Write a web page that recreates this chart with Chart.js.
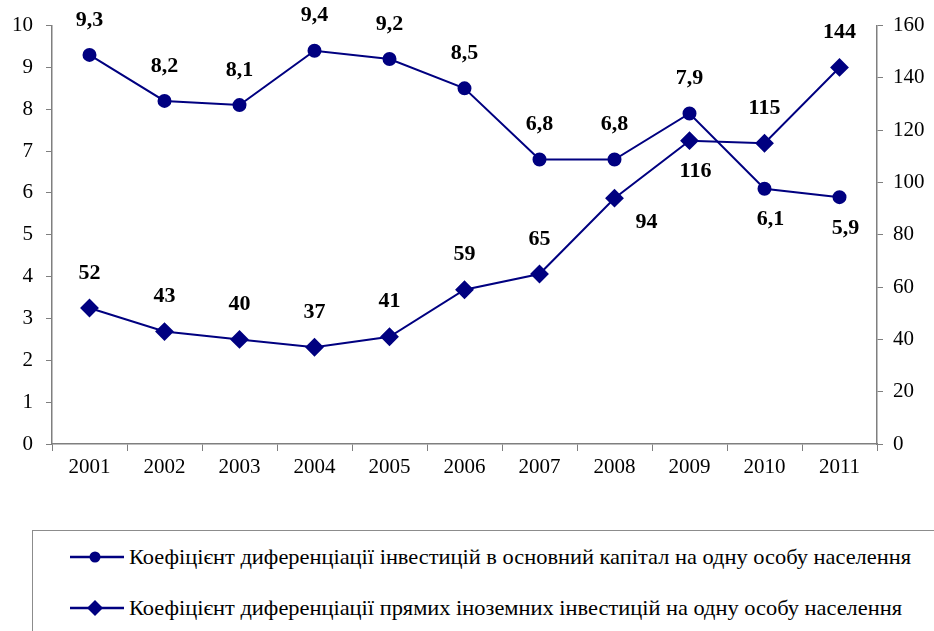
<!DOCTYPE html>
<html>
<head>
<meta charset="utf-8">
<script src="https://cdn.jsdelivr.net/npm/chart.js@4/dist/chart.umd.min.js"></script>
<style>
    html, body { margin: 0; padding: 0; background: #fff; overflow: hidden; }
    #wrap { position: relative; width: 934px; height: 631px; }
    #chart { position: absolute; left: 0; top: 0; }
    #legend {
        position: absolute; left: 32px; top: 530px; width: 960px; height: 140px;
        border: 1.5px solid #8c8c8c; box-sizing: border-box;
    }
    .row { position: absolute; left: 36px; height: 30px; white-space: nowrap; }
    .row svg { position: absolute; left: 0; top: 4px; }
    .row span {
        position: absolute; left: 60px; top: 0; display: inline-block;
        font-size: 22px; line-height: 30px; color: #000; transform-origin: 0 50%;
    }
</style>
</head>
<body>
<div id="wrap">
    <canvas id="chart" width="934" height="500"></canvas>
    <div id="legend">
        <div class="row" style="top:11px">
            <svg width="56" height="22"><line x1="1" y1="11" x2="55" y2="11" stroke="#000080" stroke-width="2.5"/><circle cx="26" cy="11" r="5.5" fill="#000080"/></svg>
            <span id="leg0"></span>
        </div>
        <div class="row" style="top:62px">
            <svg width="56" height="22"><line x1="1" y1="11" x2="55" y2="11" stroke="#000080" stroke-width="2.5"/><polygon points="26,3 34,11 26,19 18,11" fill="#000080"/></svg>
            <span id="leg1"></span>
        </div>
    </div>
</div>
<script>
(function() {
    'use strict';

    // Chart data
    const years = ['2001', '2002', '2003', '2004', '2005', '2006', '2007', '2008', '2009', '2010', '2011'];
    const capitalCoef = [9.3, 8.2, 8.1, 9.4, 9.2, 8.5, 6.8, 6.8, 7.9, 6.1, 5.9];
    const foreignCoef = [52, 43, 40, 37, 41, 59, 65, 94, 116, 115, 144];
    const leftTicks = [0, 10, 1];
    const rightTicks = [0, 160, 20];
    const seriesNames = [
        'Коефіцієнт диференціації інвестицій в основний капітал на одну особу населення',
        'Коефіцієнт диференціації прямих іноземних інвестицій на одну особу населення'
    ];

    // Where each value label sits relative to its point
    const capitalLabelPos = ['up', 'up', 'up', 'up', 'up', 'up', 'up', 'up', 'up', 'down', 'down'];
    const foreignLabelPos = ['up', 'up', 'up', 'up', 'up', 'up', 'up', 'right', 'down', 'up', 'up'];

    const NAVY = '#000080';
    const AXIS = '#7f7f7f';

    // Pick the first serif face that is really installed (Times-like look of the original)
    function pickSerif() {
        const c = document.createElement('canvas').getContext('2d');
        const probe = 'abcdefghijklmnopqrstuvwxyz0123456789 Коефіцієнт';
        const names = ['Liberation Serif', 'Tinos', 'Times New Roman', 'Times', 'Nimbus Roman',
            'Nimbus Roman No9 L', 'FreeSerif', 'DejaVu Serif', 'Noto Serif', 'Georgia'];
        const base = {};
        ['monospace', 'sans-serif'].forEach(b => {
            c.font = '20px ' + b;
            base[b] = c.measureText(probe).width;
        });
        for (const n of names) {
            let found = true;
            ['monospace', 'sans-serif'].forEach(b => {
                c.font = '20px "' + n + '", ' + b;
                if (c.measureText(probe).width === base[b]) found = false;
            });
            if (found) return '"' + n + '", serif';
        }
        return 'serif';
    }
    const FAMILY = pickSerif();
    const TICK_FONT = { family: FAMILY, size: 21 };

    function fmt(v) {
        return String(v).replace('.', ',');
    }

    // Draws bold value labels next to the points
    const valueLabels = {
        id: 'valueLabels',
        afterDatasetsDraw(chart) {
            const ctx = chart.ctx;
            ctx.save();
            ctx.font = 'bold 22px ' + FAMILY;
            ctx.fillStyle = '#000';
            ctx.textAlign = 'center';
            ctx.textBaseline = 'middle';
            chart.data.datasets.forEach((ds, di) => {
                const meta = chart.getDatasetMeta(di);
                meta.data.forEach((pt, i) => {
                    const pos = ds.labelPos[i];
                    let x = pt.x, y = pt.y;
                    if (pos === 'up') y -= 35;
                    else if (pos === 'down') { y += 31; x += 6; }
                    else if (pos === 'right') { x += 32; y += 24; }
                    ctx.fillText(fmt(ds.data[i]), x, y);
                });
            });
            ctx.restore();
        }
    };

    const ctx = document.getElementById('chart').getContext('2d');
    new Chart(ctx, {
        type: 'line',
        data: {
            labels: years,
            datasets: [
                {
                    label: seriesNames[0],
                    data: capitalCoef,
                    labelPos: capitalLabelPos,
                    yAxisID: 'y',
                    borderColor: NAVY,
                    backgroundColor: NAVY,
                    borderWidth: 2,
                    pointStyle: 'circle',
                    pointRadius: 6,
                    tension: 0
                },
                {
                    label: seriesNames[1],
                    data: foreignCoef,
                    labelPos: foreignLabelPos,
                    yAxisID: 'y1',
                    borderColor: NAVY,
                    backgroundColor: NAVY,
                    borderWidth: 2,
                    pointStyle: 'rectRot',
                    pointRadius: 8,
                    tension: 0
                }
            ]
        },
        options: {
            responsive: false,
            animation: false,
            devicePixelRatio: 1,
            layout: { padding: { top: 23, left: 0, right: 0, bottom: 0 } },
            plugins: {
                legend: { display: false },
                tooltip: { enabled: false }
            },
            scales: {
                x: {
                    offset: true,
                    grid: { display: true, drawOnChartArea: false, drawTicks: true, tickLength: 7, color: AXIS, offset: true },
                    border: { color: AXIS, width: 1.5 },
                    ticks: { font: TICK_FONT, color: '#000', padding: 4, maxRotation: 0 },
                    afterFit(scale) { scale.height = 56; }
                },
                y: {
                    position: 'left',
                    min: leftTicks[0],
                    max: leftTicks[1],
                    grid: { display: true, drawOnChartArea: false, drawTicks: true, tickLength: 6, color: AXIS },
                    border: { color: AXIS, width: 1.5 },
                    ticks: { stepSize: leftTicks[2], font: TICK_FONT, color: '#000', padding: 13 },
                    afterFit(scale) { scale.width = 52; }
                },
                y1: {
                    position: 'right',
                    min: rightTicks[0],
                    max: rightTicks[1],
                    grid: { display: true, drawOnChartArea: false, drawTicks: true, tickLength: 6, color: AXIS },
                    border: { color: AXIS, width: 1.5 },
                    ticks: { stepSize: rightTicks[2], font: TICK_FONT, color: '#000', padding: 10 },
                    afterFit(scale) { scale.width = 57; }
                }
            }
        },
        plugins: [valueLabels]
    });

    // Legend text, squeezed to the narrow look of the original
    const leg0 = document.getElementById('leg0');
    const leg1 = document.getElementById('leg1');
    leg0.style.fontFamily = FAMILY;
    leg1.style.fontFamily = FAMILY;
    leg0.textContent = seriesNames[0];
    leg1.textContent = seriesNames[1];
    const k = 782 / leg0.getBoundingClientRect().width;
    leg0.style.transform = 'scaleX(' + k + ')';
    leg1.style.transform = 'scaleX(' + k + ')';
})();
</script>
</body>
</html>
